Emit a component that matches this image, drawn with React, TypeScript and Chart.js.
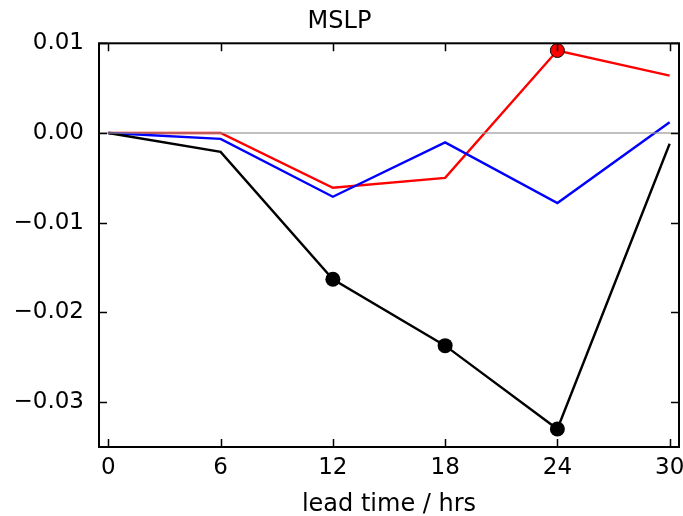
import React, { useEffect, useRef } from "react";
import { Chart, registerables } from "chart.js";

Chart.register(...registerables);

// Lead times (hours) and MSLP differences per run
const leadHours = [0, 6, 12, 18, 24, 30];
const blackSeries = [0, -0.0021, -0.0163, -0.0237, -0.033, -0.0012];
const blueSeries = [0, -0.00065, -0.0071, -0.00105, -0.0078, 0.0012];
const redSeries = [0, 0, -0.0061, -0.005, 0.0092, 0.0064];
const blackMarked = [false, false, true, true, true, false];
const redMarked = [false, false, false, false, true, false];

const xTicks = [0, 6, 12, 18, 24, 30];
const yTicks = [0.01, 0, -0.01, -0.02, -0.03];

const FONT = "'DejaVu Sans', 'Liberation Sans', sans-serif";

const toPoints = (vals: number[]) => vals.map((v, i) => ({ x: leadHours[i], y: v }));

const fmtY = (v: number) => {
  if (Math.abs(v) < 1e-12) return "0.00";
  return (v < 0 ? "\u2212" : "") + Math.abs(v).toFixed(2);
};

// Zero reference line, axes frame and inward tick marks on all four sides
const framePlugin = {
  id: "frame",
  afterDatasetsDraw(chart: any) {
    const { ctx, chartArea, scales } = chart;
    const { left, right, top, bottom } = chartArea;
    ctx.save();

    const y0 = scales.y.getPixelForValue(0);
    ctx.strokeStyle = "rgba(150,150,150,0.6)";
    ctx.lineWidth = 2;
    ctx.beginPath();
    ctx.moveTo(left, y0);
    ctx.lineTo(right, y0);
    ctx.stroke();

    const tl = 8;
    ctx.strokeStyle = "#000";
    ctx.lineWidth = 1.5;
    ctx.beginPath();
    for (const t of xTicks) {
      const x = Math.round(scales.x.getPixelForValue(t)) + 0.5;
      ctx.moveTo(x, bottom);
      ctx.lineTo(x, bottom - tl);
      ctx.moveTo(x, top);
      ctx.lineTo(x, top + tl);
    }
    for (const t of yTicks) {
      const y = Math.round(scales.y.getPixelForValue(t)) + 0.5;
      ctx.moveTo(left, y);
      ctx.lineTo(left + tl, y);
      ctx.moveTo(right, y);
      ctx.lineTo(right - tl, y);
    }
    ctx.stroke();

    ctx.lineWidth = 2;
    ctx.strokeRect(left, top, right - left, bottom - top);
    ctx.restore();
  },
};

export default function App() {
  const canvasRef = useRef<HTMLCanvasElement | null>(null);

  useEffect(() => {
    if (!canvasRef.current) return;
    const chart = new Chart(canvasRef.current, {
      type: "line",
      data: {
        datasets: [
          {
            data: toPoints(blackSeries),
            borderColor: "#000000",
            borderWidth: 2.4,
            pointRadius: blackMarked.map((m) => (m ? 7.5 : 0)),
            pointBackgroundColor: "#000000",
            pointBorderWidth: 0,
            pointHoverRadius: 0,
          },
          {
            data: toPoints(blueSeries),
            borderColor: "#0000ff",
            borderWidth: 2.4,
            pointRadius: 0,
            pointHoverRadius: 0,
          },
          {
            data: toPoints(redSeries),
            borderColor: "#ff0000",
            borderWidth: 2.4,
            pointRadius: redMarked.map((m) => (m ? 7 : 0)),
            pointBackgroundColor: "#ff0000",
            pointBorderColor: "#000000",
            pointBorderWidth: 1,
            pointHoverRadius: 0,
          },
        ],
      },
      options: {
        animation: false,
        responsive: false,
        events: [],
        layout: { padding: { left: 0, right: 4, top: 0, bottom: 0 } },
        plugins: {
          legend: { display: false },
          tooltip: { enabled: false },
          title: {
            display: true,
            text: "MSLP",
            color: "#000",
            font: { family: FONT, size: 24, weight: "normal" },
            padding: { top: 7, bottom: 7.5 },
          },
        },
        scales: {
          x: {
            type: "linear",
            min: -0.5,
            max: 30.5,
            grid: { display: false, drawTicks: false },
            border: { display: false },
            afterBuildTicks: (scale: any) => {
              scale.ticks = xTicks.map((v) => ({ value: v }));
            },
            afterFit: (scale: any) => {
              scale.height = 69;
              scale.paddingLeft = 0;
              scale.paddingRight = 0;
            },
            ticks: {
              color: "#000",
              font: { family: FONT, size: 23 },
              padding: 7,
              maxRotation: 0,
              autoSkip: false,
              callback: (v: any) => String(v),
            },
            title: {
              display: true,
              text: "lead time / hrs",
              color: "#000",
              font: { family: FONT, size: 24 },
              padding: { top: 0, bottom: -3 },
            },
          },
          y: {
            type: "linear",
            min: -0.035,
            max: 0.01,
            grid: { display: false, drawTicks: false },
            border: { display: false },
            afterBuildTicks: (scale: any) => {
              scale.ticks = yTicks.map((v) => ({ value: v }));
            },
            afterFit: (scale: any) => {
              scale.width = 99;
              scale.paddingTop = 0;
              scale.paddingBottom = 0;
            },
            ticks: {
              color: "#000",
              font: { family: FONT, size: 23 },
              padding: 15,
              autoSkip: false,
              callback: (v: any) => fmtY(Number(v)),
            },
          },
        },
      },
      plugins: [framePlugin],
    });
    return () => chart.destroy();
  }, []);

  return (
    <div style={{ position: "absolute", left: 0, top: 0, width: 683, height: 516, background: "#fff" }}>
      <canvas ref={canvasRef} width={683} height={516} style={{ display: "block" }} />
    </div>
  );
}
